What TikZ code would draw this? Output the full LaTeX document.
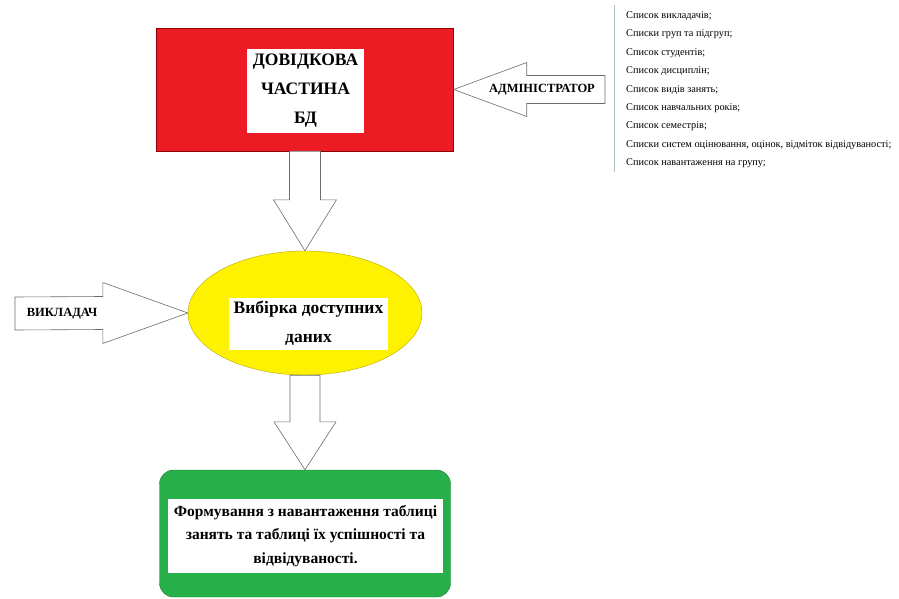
\documentclass[tikz,border=0pt]{standalone}
\usepackage{fontspec}
\setmainfont{Liberation Serif}
\usetikzlibrary{shapes.geometric,calc}

\definecolor{dbred}{HTML}{ED1C24}
\definecolor{selyellow}{HTML}{FFF200}
\definecolor{selrim}{HTML}{B8A800}
\definecolor{formgreen}{HTML}{27B04A}
\definecolor{formrim}{HTML}{1C7A33}
\definecolor{listgray}{HTML}{A9C2B6}

\begin{document}
\begin{tikzpicture}[x=1pt,y=-1pt,
    barrow/.style={draw=gray!85!black,fill=white,line width=0.6pt,line join=miter},
    whitebox/.style={fill=white,inner sep=0pt,align=center},
    lbl/.style={font=\bfseries\fontsize{12.5}{14}\selectfont,inner sep=0pt},
  ]
  \useasboundingbox (0,0) rectangle (899,599);

  % blocks
  \node[draw=red!55!black,fill=dbred,minimum width=297pt,minimum height=123pt] (db) at (305,89.5) {};
  \node[whitebox,minimum width=117pt,minimum height=84pt,font=\bfseries\fontsize{17.5}{29}\selectfont] (dbtext) at (305.5,91) {ДОВІДКОВА\\ЧАСТИНА\\БД};

  \node[ellipse,draw=selrim,fill=selyellow,minimum width=234pt,minimum height=124pt,inner sep=0pt] (sel) at (305,313) {};
  \node[whitebox,minimum width=159pt,minimum height=52pt,font=\bfseries\fontsize{17.5}{29}\selectfont] (seltext) at (308.5,323.5) {Вибірка доступних\\даних};

  \node[draw=formrim,fill=formgreen,rounded corners=14pt,minimum width=291pt,minimum height=127pt] (form) at (305,533.5) {};
  \node[whitebox,minimum width=275pt,minimum height=74pt,font=\bfseries\fontsize{15.5}{23.5}\selectfont] (formtext) at (305.5,536) {Формування з навантаження таблиці\\занять та таблиці їх успішності та\\відвідуваності.};

  \coordinate (adminend) at (605,89.5);
  \coordinate (teachend) at (15,313.5);
  \coordinate (listtop) at (614,5);
  \coordinate (listbot) at (614,172);

  % block arrows
  \draw[barrow] ($(db.south)+(-15.5,0)$) -- ($(sel.north)+(-15.5,-51)$) -- ($(sel.north)+(-31.5,-51)$) -- (sel.north)
    -- ($(sel.north)+(31.5,-51)$) -- ($(sel.north)+(15.5,-51)$) -- ($(db.south)+(15.5,0)$) -- cycle;
  \draw[barrow] ($(sel.south)+(-15,0)$) -- ($(form.north)+(-15,-48)$) -- ($(form.north)+(-31,-48)$) -- (form.north)
    -- ($(form.north)+(31,-48)$) -- ($(form.north)+(15,-48)$) -- ($(sel.south)+(15,0)$) -- cycle;
  \draw[barrow] ($(adminend)+(0,-14)$) -- ($(db.east)+(73,-14)$) -- ($(db.east)+(73,-27)$) -- (db.east)
    -- ($(db.east)+(73,27)$) -- ($(db.east)+(73,14)$) -- ($(adminend)+(0,14)$) -- cycle;
  \draw[barrow] ($(teachend)+(0,-16.5)$) -- ($(sel.west)+(-85,-16.5)$) -- ($(sel.west)+(-85,-30.5)$) -- (sel.west)
    -- ($(sel.west)+(-85,30.5)$) -- ($(sel.west)+(-85,16.5)$) -- ($(teachend)+(0,16.5)$) -- cycle;

  \node[lbl] (admin) at (542,89.5) {АДМІНІСТРАТОР};
  \node[lbl] (teach) at (62,313.5) {ВИКЛАДАЧ};

  % list of references
  \draw[listgray,line width=0.8pt] (listtop) -- (listbot);
  \node[anchor=north west,align=left,inner sep=0pt,font=\fontsize{10.3}{18.4}\selectfont] (lists) at (626,11.5) {Список викладачів;\\Списки груп та підгруп;\\Список студентів;\\Список дисциплін;\\Список видів занять;\\Список навчальних років;\\Список семестрів;\\Списки систем оцінювання, оцінок, відміток відвідуваності;\\Список навантаження на групу;};
\end{tikzpicture}
\end{document}
